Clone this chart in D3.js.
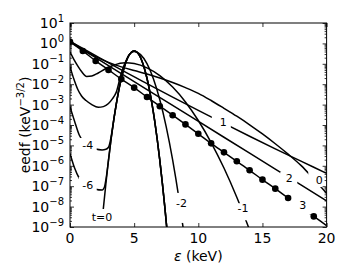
<!DOCTYPE html>
<html>
<head>
<meta charset="utf-8">
<script src="https://cdn.jsdelivr.net/npm/d3@7"></script>
<style>
  body { margin: 0; background: #fff; }
  svg text { font-family: "DejaVu Sans", sans-serif; fill: #000; }
</style>
</head>
<body>
<svg id="chart" width="350" height="280"></svg>
<script>
// energies (keV) and log10(eedf), one pair per curve
const eT0  = [2.45, 2.6, 2.8, 3.0, 3.2, 3.4, 3.6, 3.8, 4.0, 4.2, 4.4, 4.6, 4.8, 5.0, 5.2, 5.4, 5.6, 5.8, 6.0, 6.2, 6.4, 6.6, 6.8, 7.0, 7.2, 7.4, 7.55];
const lgT0 = [-9.08, -8.09, -6.86, -5.73, -4.71, -3.80, -3.00, -2.30, -1.71, -1.23, -0.85, -0.58, -0.42, -0.37, -0.42, -0.58, -0.85, -1.23, -1.71, -2.30, -3.00, -3.80, -4.71, -5.73, -6.86, -8.09, -9.08];

const eM6  = [0, 0.35, 0.72, 1.1, 1.5, 2.0, 2.5, 2.6, 2.7, 2.8, 3.0, 3.2, 3.4, 3.6, 3.8, 4.0, 4.2, 4.4, 4.6, 4.8, 5.0, 5.2, 5.4, 5.6, 5.8, 6.0, 6.2, 6.4, 6.6, 6.8, 7.0, 7.2, 7.4, 7.55];
const lgM6 = [-5.4, -6.1, -6.61, -6.88, -7.02, -7.15, -7.19, -7.14, -7.01, -6.68, -5.72, -4.70, -3.80, -3.00, -2.30, -1.71, -1.23, -0.85, -0.58, -0.42, -0.37, -0.42, -0.58, -0.85, -1.23, -1.71, -2.30, -3.00, -3.80, -4.71, -5.73, -6.86, -8.09, -9.08];

const eM4  = [0, 0.35, 0.72, 1.1, 1.5, 2.0, 2.5, 2.8, 3.0, 3.2, 3.4, 3.6, 3.8, 4.0, 4.2, 4.4, 4.6, 4.8, 5.0, 5.2, 5.4, 5.6, 5.8, 6.0, 6.2, 6.4, 6.6, 6.8, 7.0, 7.2, 7.4, 7.55];
const lgM4 = [-3.1, -3.8, -4.49, -4.85, -5.05, -5.18, -5.22, -5.19, -5.09, -4.59, -3.78, -3.00, -2.30, -1.71, -1.23, -0.85, -0.58, -0.42, -0.37, -0.42, -0.58, -0.85, -1.23, -1.71, -2.30, -3.00, -3.80, -4.71, -5.73, -6.86, -8.09, -9.08];

const eM2  = [0, 0.3, 0.6, 0.9, 1.25, 1.7, 2.2, 2.6, 3.0, 3.3, 3.6, 4.0, 4.4, 4.7, 5.0, 5.5, 6.0, 6.5, 7.0, 7.5, 8.0, 8.5, 9.0];
const lgM2 = [-1.14, -1.75, -2.25, -2.58, -2.8, -3.0, -3.13, -3.1, -2.95, -2.72, -2.4, -1.45, -0.8, -0.5, -0.4, -0.55, -0.99, -1.73, -2.76, -4.09, -5.71, -7.63, -9.85];

const eM1  = [0, 0.3, 0.6, 0.9, 1.3, 1.7, 2.2, 2.8, 3.4, 4.3, 5.0, 6.0, 7.0, 8.0, 9.0, 10.0, 11.0, 12.0, 13.0, 14.0];
const lgM1 = [-0.41, -0.78, -1.1, -1.38, -1.62, -1.6, -1.45, -1.23, -1.07, -0.95, -0.99, -1.2, -1.58, -2.14, -2.87, -3.78, -4.86, -6.11, -7.54, -9.15];

const eP0  = [0, 1, 2, 3, 4, 5, 6, 7, 8, 9, 10, 11, 12, 13, 14, 15, 16, 17, 18, 19, 20];
const lgP0 = [0.12, -0.3, -0.65, -0.93, -1.15, -1.33, -1.5, -1.7, -1.92, -2.17, -2.45, -2.8, -3.18, -3.57, -3.99, -4.44, -4.92, -5.43, -5.98, -6.65, -7.35];

const eP1  = [0, 2, 4, 6, 8, 10, 11, 12, 14, 16, 18, 20];
const lgP1 = [0.1, -0.6, -1.3, -1.97, -2.63, -3.28, -3.6, -3.92, -4.55, -5.17, -5.77, -6.37];

const eP2  = [0, 4, 8, 12, 16, 20];
const lgP2 = [0.08, -1.48, -3.04, -4.6, -6.16, -7.72];

const eP3  = [0, 1, 2, 3, 4, 5, 6, 7, 8, 9, 10, 11, 12, 13, 14, 15, 16, 17, 18, 19, 20];
const lgP3 = [0.08, -0.37, -0.86, -1.30, -1.75, -2.17, -2.63, -3.08, -3.52, -3.97, -4.43, -4.90, -5.34, -5.78, -6.22, -6.68, -7.12, -7.58, -8.03, -8.48, -8.93];
// energies where the markers on curve 3 show
const eDots = [0, 1, 2, 3, 4, 5, 6, 7, 8, 9, 10, 11, 12, 13, 14, 15, 16, 17, 19];

// inline curve labels: text, position (keV, log10 eedf)
const labelText = ["t=0", "-6", "-4", "-2", "-1", "1", "2", "0", "3"];
const labelE    = [2.49, 1.38, 1.38, 8.69, 13.48, 11.95, 17.09, 19.43, 18.14];
const labelLg   = [-8.51, -6.94, -4.98, -7.82, -8.08, -3.84, -6.61, -6.70, -7.92];

const curves = [
  { key: "t0", e: eT0, lg: lgT0 },
  { key: "m6", e: eM6, lg: lgM6 },
  { key: "m4", e: eM4, lg: lgM4 },
  { key: "m2", e: eM2, lg: lgM2 },
  { key: "m1", e: eM1, lg: lgM1 },
  { key: "p1", e: eP1, lg: lgP1 },
  { key: "p2", e: eP2, lg: lgP2 },
  { key: "p0", e: eP0, lg: lgP0 },
  { key: "p3", e: eP3, lg: lgP3 }
];
// gap cut in each line round its label: [dx, dy, w, h] in px
const gaps = [[0, 3, 24, 22], [0, -1, 18, 14], [0, 0, 18, 14], [-1, 5, 16, 30], [0, 3.5, 14, 17],
              [-2, 0, 19, 14], [-0.5, 0.5, 17, 14], [-1, -2, 20, 18], [-2, 0.5, 22, 18]];

const width = 350, height = 280;
const margin = { top: 23, right: 23.4, bottom: 53, left: 70 };

const svg = d3.select("#chart");

const x = d3.scaleLinear().domain([0, 20]).range([margin.left, width - margin.right]);
const y = d3.scaleLog().domain([1e-9, 1e1]).range([height - margin.bottom, margin.top]);

const defs = svg.append("defs");
defs.append("clipPath").attr("id", "plotclip")
  .append("rect")
  .attr("x", x(0)).attr("y", y(1e1))
  .attr("width", x(20) - x(0)).attr("height", y(1e-9) - y(1e1));

// one mask per curve, with a hole where its label sits
curves.forEach(function(c, i) {
  let m = defs.append("mask").attr("id", "mask-" + c.key)
    .attr("maskUnits", "userSpaceOnUse")
    .attr("x", 0).attr("y", 0).attr("width", width).attr("height", height);
  m.append("rect").attr("width", width).attr("height", height).attr("fill", "#fff");
  let g = gaps[i];
  m.append("rect")
    .attr("x", x(labelE[i]) + g[0] - g[2] / 2)
    .attr("y", y(Math.pow(10, labelLg[i])) + g[1] - g[3] / 2)
    .attr("width", g[2]).attr("height", g[3])
    .attr("fill", "#000");
});

// ticks, all pointing inward
const decades = d3.range(-9, 2).map(function(k) { return Math.pow(10, k); });
let minors = [];
for (let k = -9; k < 1; k++) {
  for (let j = 2; j < 10; j++) minors.push(j * Math.pow(10, k));
}
const xTicks = [0, 5, 10, 15, 20];

function tickGroup(axis, tx, ty) {
  let g = svg.append("g")
    .attr("transform", "translate(" + tx + "," + ty + ")")
    .call(axis);
  g.select(".domain").remove();
  g.selectAll("text").remove();
  g.selectAll("line").attr("stroke", "#000").attr("stroke-width", 0.8);
  return g;
}

tickGroup(d3.axisBottom(x).tickValues(xTicks).tickSize(-4), 0, y(1e-9));
tickGroup(d3.axisTop(x).tickValues(xTicks).tickSize(-4), 0, y(1e1));
tickGroup(d3.axisLeft(y).tickValues(decades).tickSize(-4), x(0), 0);
tickGroup(d3.axisRight(y).tickValues(decades).tickSize(-4), x(20), 0);
tickGroup(d3.axisLeft(y).tickValues(minors).tickSize(-2), x(0), 0);
tickGroup(d3.axisRight(y).tickValues(minors).tickSize(-2), x(20), 0);

// tick labels
svg.append("g").selectAll("text")
  .data(xTicks)
  .enter().append("text")
  .attr("x", function(d) { return x(d); })
  .attr("y", y(1e-9) + 15.5)
  .attr("text-anchor", "middle")
  .style("font-size", "14px")
  .text(function(d) { return d; });

let yLab = svg.append("g").selectAll("text")
  .data(d3.range(-9, 2))
  .enter().append("text")
  .attr("x", x(0) - 6)
  .attr("y", function(d) { return y(Math.pow(10, d)) + 5; })
  .attr("text-anchor", "end")
  .style("font-size", "14px");
yLab.append("tspan").text("10");
yLab.append("tspan")
  .attr("dy", -6.5)
  .style("font-size", "10px")
  .text(function(d) { return d < 0 ? "\u2212" + (-d) : d; });

// axis titles
svg.append("text")
  .attr("x", (x(0) + x(20)) / 2)
  .attr("y", 261)
  .attr("text-anchor", "middle")
  .style("font-size", "14px")
  .html('<tspan font-style="italic">\u03b5</tspan> (keV)');

let yt = svg.append("text")
  .attr("transform", "translate(30," + ((y(1e1) + y(1e-9)) / 2) + ") rotate(-90)")
  .attr("text-anchor", "middle")
  .style("font-size", "14px");
yt.append("tspan").text("eedf (keV");
yt.append("tspan").attr("dy", -6).style("font-size", "10px").text("\u22123/2");
yt.append("tspan").attr("dy", 6).text(")");

// curves
const line = d3.line()
  .x(function(d) { return x(d[0]); })
  .y(function(d) { return y(Math.pow(10, d[1])); })
  .curve(d3.curveMonotoneX);

const plot = svg.append("g").attr("clip-path", "url(#plotclip)");

curves.forEach(function(c) {
  let pts = c.e.map(function(e, i) { return [e, c.lg[i]]; });
  plot.append("g")
    .attr("mask", "url(#mask-" + c.key + ")")
    .append("path")
    .datum(pts)
    .attr("class", "line")
    .attr("fill", "none")
    .attr("stroke", "#000")
    .attr("stroke-width", 1.5)
    .attr("d", line);
});

// markers on curve 3
plot.append("g").selectAll("circle")
  .data(eDots)
  .enter().append("circle")
  .attr("r", 3.3)
  .attr("fill", "#000")
  .attr("cx", function(d) { return x(d); })
  .attr("cy", function(d) { return y(Math.pow(10, lgP3[eP3.indexOf(d)])); });

// inline labels
svg.append("g").selectAll("text")
  .data(labelText)
  .enter().append("text")
  .attr("x", function(d, i) { return x(labelE[i]); })
  .attr("y", function(d, i) { return y(Math.pow(10, labelLg[i])) + 4; })
  .attr("text-anchor", "middle")
  .style("font-size", "11px")
  .text(function(d) { return d; });

// frame
svg.append("rect")
  .attr("x", x(0)).attr("y", y(1e1))
  .attr("width", x(20) - x(0)).attr("height", y(1e-9) - y(1e1))
  .attr("fill", "none")
  .attr("stroke", "#000")
  .attr("stroke-width", 1);
</script>
</body>
</html>
